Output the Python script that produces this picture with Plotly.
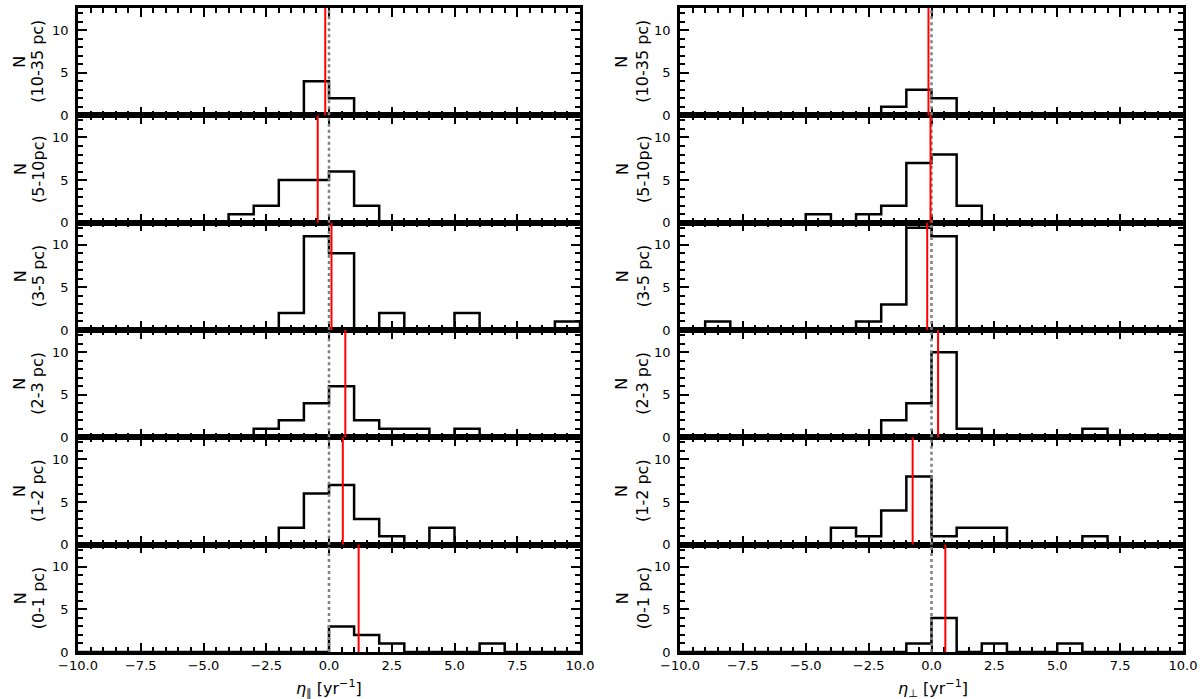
import plotly.graph_objects as go

# ---------------- data ----------------
bin_edges = list(range(-10, 11))  # 20 bins of width 1 from -10 to 10
row_labels = ["(10-35 pc)", "(5-10pc)", "(3-5 pc)", "(2-3 pc)", "(1-2 pc)", "(0-1 pc)"]

# counts per bin, bin index 0 -> [-10,-9], ..., index 19 -> [9,10]
#                -10 -9 -8 -7 -6 -5 -4 -3 -2 -1  0  1  2  3  4  5  6  7  8  9
par_10_35 =     [0, 0, 0, 0, 0, 0, 0, 0, 0, 4, 2, 0, 0, 0, 0, 0, 0, 0, 0, 0]
par_5_10 =      [0, 0, 0, 0, 0, 0, 1, 2, 5, 5, 6, 2, 0, 0, 0, 0, 0, 0, 0, 0]
par_3_5 =       [0, 0, 0, 0, 0, 0, 0, 0, 2, 11, 9, 0, 2, 0, 0, 2, 0, 0, 0, 1]
par_2_3 =       [0, 0, 0, 0, 0, 0, 0, 1, 2, 4, 6, 2, 1, 1, 0, 1, 0, 0, 0, 0]
par_1_2 =       [0, 0, 0, 0, 0, 0, 0, 0, 2, 6, 7, 3, 1, 0, 2, 0, 0, 0, 0, 0]
par_0_1 =       [0, 0, 0, 0, 0, 0, 0, 0, 0, 0, 3, 2, 1, 0, 0, 0, 1, 0, 0, 0]

perp_10_35 =    [0, 0, 0, 0, 0, 0, 0, 0, 1, 3, 2, 0, 0, 0, 0, 0, 0, 0, 0, 0]
perp_5_10 =     [0, 0, 0, 0, 0, 1, 0, 1, 2, 7, 8, 2, 0, 0, 0, 0, 0, 0, 0, 0]
perp_3_5 =      [0, 1, 0, 0, 0, 0, 0, 1, 3, 12, 11, 0, 0, 0, 0, 0, 0, 0, 0, 0]
perp_2_3 =      [0, 0, 0, 0, 0, 0, 0, 0, 2, 4, 10, 1, 0, 0, 0, 0, 1, 0, 0, 0]
perp_1_2 =      [0, 0, 0, 0, 0, 0, 2, 1, 4, 8, 1, 2, 2, 0, 0, 0, 1, 0, 0, 0]
perp_0_1 =      [0, 0, 0, 0, 0, 0, 0, 0, 0, 1, 4, 0, 1, 0, 0, 1, 0, 0, 0, 0]

par_counts = [par_10_35, par_5_10, par_3_5, par_2_3, par_1_2, par_0_1]
perp_counts = [perp_10_35, perp_5_10, perp_3_5, perp_2_3, perp_1_2, perp_0_1]

par_medians = [-0.15, -0.45, 0.10, 0.65, 0.55, 1.18]
perp_medians = [-0.12, -0.04, -0.17, 0.26, -0.75, 0.55]

x_tick_vals = [-10.0, -7.5, -5.0, -2.5, 0.0, 2.5, 5.0, 7.5, 10.0]
y_tick_vals = [0, 5, 10]
x_titles = ["<i>η</i><sub>∥</sub> [yr<sup>−1</sup>]", "<i>η</i><sub>⊥</sub> [yr<sup>−1</sup>]"]

# ---------------- layout geometry (page pixels) ----------------
W, H = 1203, 699
col_px = [(78, 580), (680, 1183)]
top_px, bot_px = 8, 652
row_h = (bot_px - top_px) / 6.0
ylab_N_px = [20, 622]
ylab_P_px = [38, 643]
xtitle_px = [329, 933]
xtitle_y_px = 688
FONT = "DejaVu Sans"

fig = go.Figure()
layout = {}
shapes = []
annotations = []

for c, (counts_set, meds) in enumerate([(par_counts, par_medians), (perp_counts, perp_medians)]):
    for r in range(6):
        idx = c * 6 + r + 1
        xref = "x" if idx == 1 else f"x{idx}"
        yref = "y" if idx == 1 else f"y{idx}"
        xkey = "xaxis" if idx == 1 else f"xaxis{idx}"
        ykey = "yaxis" if idx == 1 else f"yaxis{idx}"

        counts = counts_set[r]
        xs = [bin_edges[0]] + bin_edges[:-1] + [bin_edges[-1]]
        ys = [0] + counts + [0]
        fig.add_trace(go.Scatter(
            x=xs, y=ys, mode="lines",
            line=dict(color="black", width=2.5, shape="hv"),
            xaxis=xref, yaxis=yref, showlegend=False, hoverinfo="skip"))

        y_top = top_px + r * row_h
        y_bot = y_top + row_h
        x0p, x1p = col_px[c]

        layout[xkey] = dict(
            domain=[x0p / W, x1p / W], anchor=yref, range=[-10, 10],
            showline=True, linewidth=2.5, linecolor="black", mirror="ticks",
            ticks="inside", ticklen=9, tickwidth=2, tickcolor="black",
            tickmode="array", tickvals=x_tick_vals,
            minor=dict(ticks="inside", dtick=0.5, tick0=-10, ticklen=5, tickwidth=1.5,
                       tickcolor="black", showgrid=False),
            showticklabels=(r == 5), tickformat=".1f",
            tickfont=dict(family=FONT, size=13, color="black"),
            showgrid=False, zeroline=False, automargin=False, fixedrange=True)
        layout[ykey] = dict(
            domain=[max(0, 1 - y_bot / H), min(1, 1 - y_top / H)], anchor=xref, range=[0, 12.6],
            showline=True, linewidth=2.5, linecolor="black", mirror="ticks",
            ticks="inside", ticklen=9, tickwidth=2, tickcolor="black",
            tickmode="array", tickvals=y_tick_vals,
            minor=dict(ticks="inside", dtick=1, tick0=0, ticklen=5, tickwidth=1.5,
                       tickcolor="black", showgrid=False),
            tickfont=dict(family=FONT, size=13, color="black"),
            ticklabelstandoff=4,
            showgrid=False, zeroline=False, automargin=False, fixedrange=True)

        # zero reference line (dotted grey)
        shapes.append(dict(type="line", xref=xref, yref=f"{yref} domain",
                           x0=0, x1=0, y0=0, y1=1,
                           line=dict(color="gray", width=2.5, dash="dot"), layer="above"))
        # median line (red)
        shapes.append(dict(type="line", xref=xref, yref=f"{yref} domain",
                           x0=meds[r], x1=meds[r], y0=0, y1=1,
                           line=dict(color="red", width=2), layer="above"))

        yc = 1 - (y_top + y_bot) / 2 / H
        annotations.append(dict(text="N", x=ylab_N_px[c] / W, y=yc, xref="paper", yref="paper",
                                xanchor="center", yanchor="middle", textangle=-90, showarrow=False,
                                font=dict(family=FONT, size=16, color="black")))
        annotations.append(dict(text=row_labels[r], x=ylab_P_px[c] / W, y=yc, xref="paper", yref="paper",
                                xanchor="center", yanchor="middle", textangle=-90, showarrow=False,
                                font=dict(family=FONT, size=16, color="black")))

    annotations.append(dict(text=x_titles[c], x=xtitle_px[c] / W, y=1 - xtitle_y_px / H,
                            xref="paper", yref="paper", xanchor="center", yanchor="middle",
                            showarrow=False, font=dict(family=FONT, size=16, color="black")))

fig.update_layout(
    width=W, height=H,
    margin=dict(l=0, r=0, t=0, b=0),
    paper_bgcolor="white", plot_bgcolor="white",
    font=dict(family=FONT, size=13, color="black"),
    shapes=shapes, annotations=annotations,
    **layout)

# remove the browser's default 8px body margin so the figure fills the window exactly
fig.write_html("out.html", config={"displayModeBar": False},
               post_script="document.body.style.margin='0px';document.body.style.overflow='hidden';")
